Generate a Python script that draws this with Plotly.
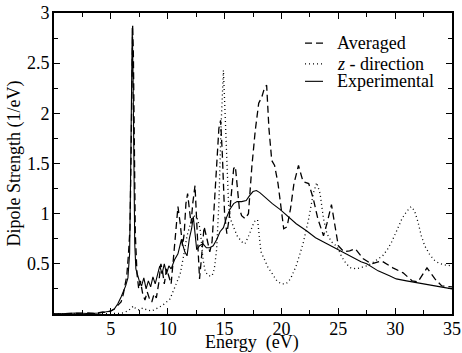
import plotly.graph_objects as go

# ---------------- data ----------------
avg_x = [0, 1, 2, 2.5, 3, 3.5, 4, 4.3, 4.6, 5.0, 5.3, 5.6, 5.9, 6.1, 6.25, 6.4, 6.55, 6.68,
         6.78, 6.85, 6.92, 6.98, 7.05, 7.15, 7.3, 7.45, 7.6, 7.8, 8.0, 8.2, 8.4, 8.6, 8.8, 9.0,
         9.2, 9.4, 9.55, 9.7, 9.9, 10.1, 10.3, 10.5, 10.7, 10.9, 11.1, 11.3, 11.45, 11.6, 11.75,
         11.9, 12.05, 12.2, 12.4, 12.6, 12.8, 13.0, 13.2, 13.45, 13.7, 13.9, 14.1, 14.3, 14.5,
         14.65, 14.8, 15.0, 15.2, 15.4, 15.6, 15.8, 15.95, 16.1, 16.3, 16.5, 16.8, 17.1, 17.4,
         17.7, 18.0, 18.27, 18.5, 18.7, 18.9, 19.15, 19.4, 19.7, 19.95, 20.2, 20.5, 20.8, 21.1,
         21.5, 21.9, 22.4, 22.8, 23.2, 23.7, 24.0, 24.4, 25.0, 25.5, 26.0, 26.5, 27.2, 27.9,
         28.8, 29.8, 30.7, 31.5, 32.0, 32.8, 33.5, 34.1, 35]
avg_y = [0, 0.005, 0.01, 0.005, 0.01, 0.005, 0.01, 0.02, 0.015, 0.03, 0.05, 0.08, 0.12, 0.2,
         0.28, 0.38, 0.6, 0.85, 1.6, 2.5, 2.88, 2.6, 1.6, 0.8, 0.4, 0.25, 0.33, 0.2, 0.14, 0.22,
         0.15, 0.12, 0.2, 0.16, 0.3, 0.5, 0.42, 0.3, 0.45, 0.38, 0.3, 0.55, 0.85, 1.07, 0.9,
         0.68, 0.8, 1.1, 1.2, 1.05, 0.9, 1.1, 1.28, 0.8, 0.35, 0.6, 0.87, 0.75, 0.62, 0.72, 1.1,
         1.5, 1.85, 1.93, 1.6, 1.0, 0.8, 0.95, 1.2, 1.45, 1.47, 1.3, 1.05, 0.98, 0.95, 1.0, 1.47,
         1.83, 2.1, 2.16, 2.25, 2.28, 1.85, 1.53, 1.48, 1.3, 1.05, 0.85, 0.87, 1.05, 1.3, 1.48,
         1.32, 1.3, 1.15, 0.95, 0.78, 0.9, 1.09, 0.68, 0.62, 0.63, 0.65, 0.55, 0.5, 0.53, 0.46,
         0.41, 0.33, 0.32, 0.46, 0.35, 0.28, 0.27]

zdir_x = [0, 5, 5.5, 6.0, 6.5, 6.8, 7.0, 7.2, 7.5, 7.8, 8.2, 8.6, 9.0, 9.3, 9.7, 10.2, 10.6,
          11.1, 11.4, 11.7, 12.0, 12.3, 12.6, 12.85, 13.1, 13.3, 13.6, 13.9, 14.1, 14.3, 14.5,
          14.7, 14.9, 15.05, 15.2, 15.35, 15.5, 15.8, 16.1, 16.5, 16.8, 17.2, 17.6, 17.9, 18.2,
          18.8, 19.2, 19.6, 20.0, 20.4, 20.8, 21.3, 21.9, 22.4, 22.8, 23.1, 23.4, 23.7, 24.0,
          24.4, 24.9, 25.3, 25.7, 26.1, 26.6, 27.0, 27.5, 28.0, 28.4, 28.9, 29.3, 29.7, 30.1,
          30.6, 31.0, 31.4, 31.7, 32.0, 32.3, 32.6, 33.0, 33.4, 33.8, 34.3, 35]
zdir_y = [0, 0, 0.005, 0.01, 0.03, 0.06, 0.08, 0.05, 0.04, 0.06, 0.04, 0.03, 0.05, 0.07, 0.1,
          0.15, 0.26, 0.4, 0.58, 0.78, 0.9, 0.98, 0.95, 0.85, 0.55, 0.42, 0.38, 0.38, 0.45, 0.64,
          1.1, 1.9, 2.43, 2.0, 1.4, 1.1, 0.95, 0.87, 0.78, 0.72, 0.7, 0.8, 0.92, 0.94, 0.62,
          0.47, 0.4, 0.33, 0.3, 0.3, 0.35, 0.48, 0.7, 0.95, 1.2, 1.31, 1.2, 0.95, 0.8, 0.72,
          0.67, 0.57, 0.5, 0.46, 0.45, 0.46, 0.48, 0.51, 0.54, 0.58, 0.64, 0.72, 0.82, 0.95,
          1.02, 1.07, 1.03, 0.92, 0.78, 0.68, 0.6, 0.54, 0.51, 0.49, 0.48]

exp_x = [0, 1, 2, 3, 4, 4.5, 5.0, 5.3, 5.6, 5.9, 6.1, 6.3, 6.5, 6.65, 6.75, 6.82, 6.88, 6.95,
         7.02, 7.1, 7.2, 7.3, 7.5, 7.7, 7.9, 8.1, 8.3, 8.5, 8.7, 8.9, 9.1, 9.3, 9.5, 9.7, 9.9,
         10.1, 10.3, 10.6, 10.9, 11.2, 11.5, 11.7, 11.9, 12.1, 12.25, 12.4, 12.55, 12.8, 13.1,
         13.4, 13.7, 14.0, 14.3, 14.6, 14.9, 15.2, 15.5, 15.8, 16.1, 16.5, 16.9, 17.2, 17.5,
         17.8, 18.1, 18.6, 19.2, 19.9, 20.6, 21.3, 22.2, 23.0, 24.0, 25.0, 26.0, 27.0, 27.5,
         28.5, 29.5, 30.1, 31.0, 31.9, 33.0, 34.0, 35]
exp_y = [0, 0.005, 0.01, 0.005, 0.01, 0.02, 0.03, 0.05, 0.1, 0.17, 0.22, 0.28, 0.36, 0.6, 1.5,
         2.5, 2.85, 2.4, 1.3, 0.7, 0.45, 0.41, 0.33, 0.28, 0.36, 0.25, 0.33, 0.27, 0.37, 0.3,
         0.4, 0.48, 0.4, 0.5, 0.4, 0.48, 0.45, 0.54, 0.6, 0.74, 0.62, 0.58, 0.75, 0.85, 0.97,
         0.8, 0.64, 0.68, 0.7, 0.66, 0.66, 0.68, 0.74, 0.82, 0.86, 0.97, 1.05, 1.1, 1.12, 1.12,
         1.13, 1.18, 1.22, 1.23, 1.21, 1.16, 1.1, 1.04, 0.97, 0.9, 0.83, 0.76, 0.7, 0.64, 0.58,
         0.52, 0.5, 0.43, 0.38, 0.35, 0.33, 0.31, 0.29, 0.27, 0.25]

series_names = ["Averaged", "<i>z</i> - direction", "Experimental"]

x_ticks = [0, 5, 10, 15, 20, 25, 30, 35]
x_ticktext = ["", "5", "10", "15", "20", "25", "30", "35"]
x_minor = [2.5, 7.5, 12.5, 17.5, 22.5, 27.5, 32.5]
y_ticks = [0, 0.5, 1, 1.5, 2, 2.5, 3]
y_ticktext = ["", "0.5", "1", "1.5", "2", "2.5", "3"]
y_minor = [0.25, 0.75, 1.25, 1.75, 2.25, 2.75]

x_title = "Energy\u00a0\u00a0(eV)"
y_title = "Dipole Strength (1/eV)"

FONT = "Liberation Serif, Times New Roman, DejaVu Serif, serif"
STYLES = [dict(color="black", width=1.3, dash="7px,4px"),
          dict(color="black", width=1.3, dash="1px,3px"),
          dict(color="black", width=1.1)]

fig = go.Figure()
for xs, ys, nm, st in zip([avg_x, zdir_x, exp_x], [avg_y, zdir_y, exp_y], series_names, STYLES):
    fig.add_trace(go.Scatter(x=xs, y=ys, mode="lines", name=nm, line=st, showlegend=False))

axis_common = dict(showgrid=False, zeroline=False, showline=True, linecolor="black",
                   linewidth=2, mirror="allticks", ticks="inside", ticklen=6, tickwidth=1,
                   tickcolor="black", automargin=False, ticklabeloverflow="allow",
                   tickfont=dict(family=FONT, size=18, color="black"))

fig.update_xaxes(range=[0, 35], tickmode="array", tickvals=x_ticks, ticktext=x_ticktext,
                 ticklabelstandoff=-3,
                 minor=dict(tickmode="array", tickvals=x_minor, ticks="inside", ticklen=4,
                            tickcolor="black", tickwidth=1),
                 **axis_common)
fig.update_yaxes(range=[0, 3], tickmode="array", tickvals=y_ticks, ticktext=y_ticktext,
                 ticklabelstandoff=-1,
                 minor=dict(tickmode="array", tickvals=y_minor, ticks="inside", ticklen=4,
                            tickcolor="black", tickwidth=1),
                 **axis_common)

# axis titles
fig.add_annotation(xref="paper", yref="paper", x=0.4987, y=-0.096, text=x_title,
                   showarrow=False, xanchor="center", yanchor="middle",
                   font=dict(family=FONT, size=18, color="black"))
fig.add_annotation(xref="paper", yref="paper", x=-0.098, y=0.5, text=y_title, textangle=-90,
                   showarrow=False, xanchor="center", yanchor="middle",
                   font=dict(family=FONT, size=18, color="black"))

# manual legend (sample lines + labels), placed in paper coordinates
leg_rows_y = [0.900, 0.831, 0.773]
leg_x0, leg_x1, leg_tx = 0.6307, 0.6759, 0.7053
for yy, nm, st in zip(leg_rows_y, series_names, STYLES):
    fig.add_shape(type="line", xref="paper", yref="paper", x0=leg_x0, x1=leg_x1, y0=yy, y1=yy,
                  line=st)
    fig.add_annotation(xref="paper", yref="paper", x=leg_tx, y=yy, text=nm, showarrow=False,
                       xanchor="left", yanchor="middle",
                       font=dict(family=FONT, size=18, color="black"))

fig.update_layout(
    width=462, height=353,
    margin=dict(l=54, r=10, t=12.5, b=38.7),
    paper_bgcolor="white", plot_bgcolor="white",
    font=dict(family=FONT, size=18, color="black"),
    showlegend=False,
)

# remove the browser's default 8px body margin so the figure sits at the window origin
fig.write_html("out.html", config={"displayModeBar": False},
               post_script="document.body.style.margin='0px';")
